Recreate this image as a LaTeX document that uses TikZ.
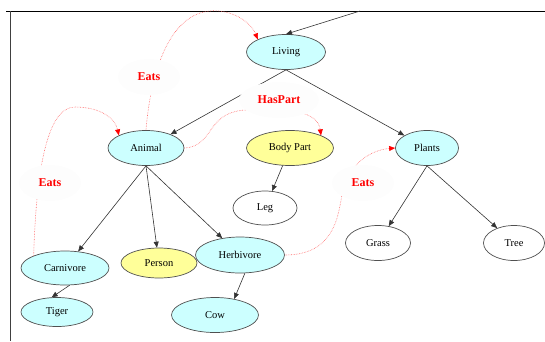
\documentclass[tikz,border=0pt]{standalone}
\usepackage{fontspec}
\setmainfont{Liberation Serif}
\usetikzlibrary{shapes.geometric,arrows.meta}
\definecolor{lcyan}{HTML}{CCFFFF}
\definecolor{lyellow}{HTML}{FFFF99}
\definecolor{edgegray}{HTML}{505050}

\begin{document}
\begin{tikzpicture}[x=1pt,y=-1pt,
    cls/.style={ellipse,draw=edgegray,line width=0.7pt,inner sep=0pt,
      minimum height=35pt,font=\fontsize{10.5}{12}\selectfont},
    cyancls/.style={cls,fill=lcyan},
    yellowcls/.style={cls,fill=lyellow},
    whitecls/.style={cls,fill=white},
    isa/.style={-{Triangle[length=6pt,width=5pt]},black!80,line width=0.6pt},
    rel/.style={-{Triangle[length=6pt,width=5pt,color=red]},red!60,
      densely dotted,line width=0.6pt},
    rellabel/.style={ellipse,fill=gray!1.5,inner sep=1pt,minimum width=62pt,
      minimum height=36pt,text=red,font=\fontsize{12}{14}\selectfont\bfseries}]
   \useasboundingbox (0,0) rectangle (545,341);
   % frame
   \draw[line width=0.8pt] (6,11) -- (545,11);
   \draw[line width=0.8pt,black!75] (10,11) -- (10,341);
   % classes
   \node[cyancls,minimum width=79pt] (Living) at (286,52) {Living};
   \node[cyancls,minimum width=76pt] (Animal) at (146,148) {Animal};
   \node[yellowcls,minimum width=87pt] (BodyPart) at (290,148) {Body Part};
   \node[cyancls,minimum width=63pt] (Plants) at (427,148) {Plants};
   \node[whitecls,minimum width=64pt,minimum height=34pt] (Leg) at (265,208) {Leg};
   \node[whitecls,minimum width=65pt] (Grass) at (378,243) {Grass};
   \node[whitecls,minimum width=61pt] (Tree) at (514,243) {Tree};
   \node[cyancls,minimum width=88pt,minimum height=34pt] (Carnivore) at (65,268) {Carnivore};
   \node[yellowcls,minimum width=76pt,minimum height=30pt] (Person) at (159,263) {Person};
   \node[cyancls,minimum width=89pt,minimum height=36pt] (Herbivore) at (240,255) {Herbivore};
   \node[cyancls,minimum width=72pt,minimum height=29pt] (Tiger) at (57,312) {Tiger};
   \node[cyancls,minimum width=87pt] (Cow) at (215,315) {Cow};
   \coordinate (top) at (360,11);
   % subclass edges
   \draw[isa] (top) -- (Living.north);
   \draw[isa] (Living.south) -- (Animal);
   \draw[isa] (Living.south) -- (Plants);
   \draw[isa] (BodyPart) -- (Leg);
   \foreach \c in {Carnivore,Person,Herbivore}
     \draw[isa] (Animal.south) -- (\c);
   \draw[isa] (Carnivore.-75) -- (Tiger.110);
   \draw[isa] (Herbivore.-75) -- (Cow.40);
   \draw[isa] (Plants.south) -- (Grass);
   \draw[isa] (Plants.south) -- (Tree);
   % relations
   \draw[rel] (Animal.north) .. controls (150,80) and (165,25) .. (200,13)
     .. controls (225,5) and (250,20) .. (Living.north west);
   \draw[rel] (Carnivore.north west) .. controls (36,180) and (45,107) .. (75,107)
     .. controls (100,107) and (115,118) .. (Animal.north west);
   \draw[rel] (Animal.east) .. controls (215,146) and (205,113) .. (245,110)
     .. controls (290,107) and (318,112) .. (BodyPart.north east);
   \draw[rel] (Herbivore.east) .. controls (335,255) and (338,215) .. (342,195)
     .. controls (347,165) and (370,150) .. (Plants.west);
   % relation labels
   \node[rellabel] (eatsA) at (149,77) {Eats};
   \node[rellabel] (eatsB) at (50,183) {Eats};
   \node[rellabel,minimum width=80pt] (haspart) at (279,100) {HasPart};
   \node[rellabel] (eatsC) at (363,183) {Eats};
\end{tikzpicture}
\end{document}
